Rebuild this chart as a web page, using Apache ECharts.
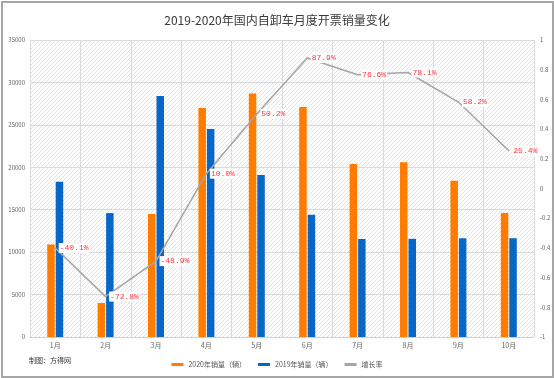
<!DOCTYPE html>
<html><head><meta charset="utf-8">
<script src="https://cdn.jsdelivr.net/npm/echarts@6/dist/echarts.min.js"></script>
<style>
html,body{margin:0;padding:0;background:#fff;}
#c{position:absolute;left:0;top:0;width:554px;height:378px;}
#frame{position:absolute;left:1px;top:1px;width:549px;height:373px;border:2px solid #a6a6a6;pointer-events:none;}
</style></head>
<body><div id="c"></div><div id="frame"></div>
<script>
const categories = ['1月','2月','3月','4月','5月','6月','7月','8月','9月','10月'];
const sales2020 = [10900, 4000, 14500, 27000, 28700, 27100, 20400, 20600, 18400, 14600];
const sales2019 = [18300, 14600, 28400, 24500, 19100, 14400, 11550, 11570, 11630, 11640];
const growth = [-0.401, -0.728, -0.489, 0.100, 0.502, 0.879, 0.766, 0.781, 0.582, 0.254];
const growthLabels = ['-40.1%','-72.8%','-48.9%','10.0%','50.2%','87.9%','76.6%','78.1%','58.2%','25.4%'];

// hatch pattern for plot background
const pc = document.createElement('canvas');
pc.width = 4; pc.height = 4;
const g = pc.getContext('2d');
g.fillStyle = '#ffffff'; g.fillRect(0,0,4,4);
g.strokeStyle = '#e4e4e4'; g.lineWidth = 1;
g.beginPath(); g.moveTo(0,4); g.lineTo(4,0); g.stroke();
g.beginPath(); g.moveTo(-1,1); g.lineTo(1,-1); g.stroke();
g.beginPath(); g.moveTo(3,5); g.lineTo(5,3); g.stroke();

const chart = echarts.init(document.getElementById('c'), null, {renderer:'canvas'});
const font = 'Noto Sans CJK SC';
chart.setOption({
  animation:false,
  title:{text:'2019-2020年国内自卸车月度开票销量变化', left:'center', top:9,
    textStyle:{fontFamily:font, fontSize:12, fontWeight:'normal', color:'#3a3a3a'}},
  graphic:[{type:'text', left:29, top:357, style:{text:'制图：方得网', fontFamily:font, fontSize:7, fill:'#333'}}],
  legend:{bottom:5, left:'center', itemWidth:12, itemHeight:3, itemGap:12,
    textStyle:{fontFamily:font, fontSize:7, color:'#555'},
    data:[{name:'2020年销量（辆）', icon:'rect'},{name:'2019年销量（辆）', icon:'rect'},{name:'增长率', icon:'rect'}]},
  grid:{left:30, right:20, top:40, bottom:41, show:true, backgroundColor:{image:pc, repeat:'repeat'}, borderWidth:0},
  xAxis:{type:'category', data:categories,
    axisLine:{lineStyle:{color:'#d0d0d0'}},
    axisTick:{show:false},
    splitLine:{show:true, lineStyle:{color:'#dcdcdc'}},
    axisLabel:{fontFamily:font, fontSize:7, color:'#666', margin:5}},
  yAxis:[
    {type:'value', min:0, max:35000, interval:5000,
      axisLine:{show:false}, axisTick:{show:false},
      splitLine:{lineStyle:{color:'#dcdcdc'}},
      axisLabel:{fontFamily:font, fontSize:6, color:'#666', margin:5, formatter:v=>String(v)}},
    {type:'value', min:-1, max:1, interval:0.2,
      axisLine:{show:false}, axisTick:{show:false}, splitLine:{show:false},
      axisLabel:{fontFamily:font, fontSize:6, color:'#666', margin:6, align:'left',
        formatter:v=>String(Math.round(v*10)/10)}}
  ],
  series:[
    {name:'2020年销量（辆）', type:'bar', data:sales2020, barWidth:7.5, barGap:'13%', itemStyle:{color:'#FF7C00'}},
    {name:'2019年销量（辆）', type:'bar', data:sales2019, barWidth:7.5, itemStyle:{color:'#0866C6'}},
    {name:'增长率', type:'line', yAxisIndex:1, data:growth, symbol:'circle', symbolSize:1, showSymbol:true, z:5,
      lineStyle:{color:'#a5a5a5', width:1.5}, itemStyle:{color:'#a5a5a5'},
      label:{show:true, position:'right', distance:3, formatter:p=>growthLabels[p.dataIndex],
        fontFamily:'Liberation Mono', fontSize:8, color:'#ff3340', backgroundColor:'#fff', padding:[1,1]}}
  ]
});
</script></body></html>
